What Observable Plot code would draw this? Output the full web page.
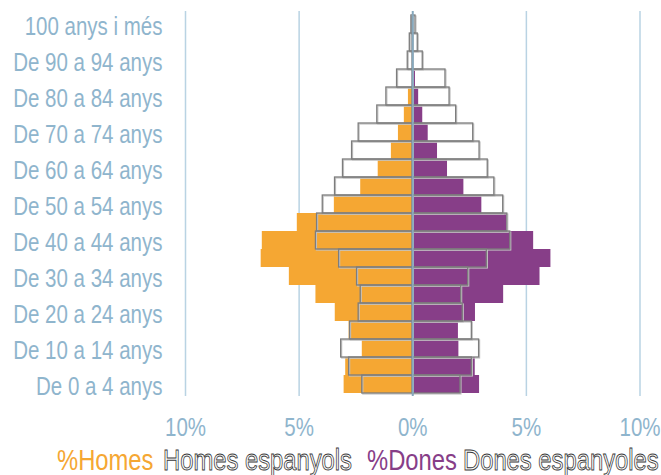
<!DOCTYPE html>
<html><head><meta charset="utf-8">
<script src="https://cdn.jsdelivr.net/npm/d3@7"></script>
<script src="https://cdn.jsdelivr.net/npm/@observablehq/plot@0.6"></script>
<style>
body{margin:0;background:#fff;font-family:'Liberation Sans',Arial,sans-serif;}
#legend{position:relative;height:30px;font-size:29px;line-height:30px;}
#legend span{position:absolute;top:0;white-space:nowrap;transform:scaleX(0.82);transform-origin:0 0;}
.outl{color:#fff;-webkit-text-stroke:0.9px #3a3a3a;}
</style></head><body>
<div id="chart"></div>
<div id="legend"></div>
<script>
// age groups, top (oldest) to bottom (youngest)
const ages = ["100 anys i més","De 95 a 99 anys","De 90 a 94 anys","De 85 a 89 anys","De 80 a 84 anys",
  "De 75 a 79 anys","De 70 a 74 anys","De 65 a 69 anys","De 60 a 64 anys","De 55 a 59 anys",
  "De 50 a 54 anys","De 45 a 49 anys","De 40 a 44 anys","De 35 a 39 anys","De 30 a 34 anys",
  "De 25 a 29 anys","De 20 a 24 anys","De 15 a 19 anys","De 10 a 14 anys","De 5 a 9 anys","De 0 a 4 anys"];
const homes = [0,0,0,0,0.19,0.37,0.63,0.94,1.52,2.29,3.45,5.08,6.62,6.67,5.43,4.26,3.41,2.80,2.22,2.95,3.02];
const homesEsp = [0.06,0.13,0.22,0.69,1.16,1.56,2.38,2.67,3.07,3.42,3.96,4.21,4.26,3.24,2.45,2.29,2.38,2.76,3.15,2.80,2.22];
const dones = [0,0,0,0.12,0.26,0.44,0.68,1.09,1.53,2.25,3.04,4.13,5.32,6.08,5.60,4.00,2.76,2.01,2.03,2.75,2.94];
const donesEsp = [0.12,0.22,0.44,1.44,1.62,1.91,2.66,2.94,3.30,3.59,3.98,4.16,4.29,3.26,2.44,2.13,2.20,2.60,2.92,2.60,2.10];
const xTicks = [-10,-5,0,5,10];
const yTickLabels = ages.filter((d,i) => i % 2 === 0);
const legendItems = [
  {text:"%Homes", cls:"", color:"#f5a733", left:57},
  {text:"Homes espanyols", cls:"outl", color:null, left:162.7},
  {text:"%Dones", cls:"", color:"#873e88", left:366.7},
  {text:"Dones espanyoles", cls:"outl", color:null, left:462.7}
];

const rows = ages.map((a,i) => ({age:a, homes:homes[i], homesEsp:homesEsp[i], dones:dones[i], donesEsp:donesEsp[i]}));

const chart = Plot.plot({
  width: 661,
  height: 445,
  marginTop: 11,
  marginBottom: 49,
  marginLeft: 185,
  marginRight: 21.5,
  style: {fontFamily: "'Liberation Sans',Arial,sans-serif", fontSize: "25px", color: "#8fb5cd", background: "#fff", overflow: "visible"},
  x: {domain: [-10, 10], ticks: xTicks, tickFormat: d => Math.abs(d) + "%", tickSize: 0, tickPadding: 22, label: null},
  y: {domain: ages, padding: 0, ticks: yTickLabels, tickSize: 0, tickPadding: 23, label: null},
  marks: [
    Plot.ruleX(xTicks.filter(d => d !== 0), {stroke: "#b9d3e3", strokeWidth: 1.5}),
    Plot.barX(rows, {x1: 0, x2: d => -d.homes, y: "age", fill: "#f5a733", inset: 0}),
    Plot.barX(rows, {x1: 0, x2: d => d.dones, y: "age", fill: "#873e88", inset: 0}),
    Plot.barX(rows, {x1: 0, x2: d => -d.homesEsp, y: "age", fill: "none", stroke: "#c4c4c4", strokeWidth: 1.2, dx: 1, dy: 1, inset: 0}),
    Plot.barX(rows, {x1: 0, x2: d => d.donesEsp, y: "age", fill: "none", stroke: "#c4c4c4", strokeWidth: 1.2, dx: 1, dy: 1, inset: 0}),
    Plot.barX(rows, {x1: 0, x2: d => -d.homesEsp, y: "age", fill: "none", stroke: "#7d7d7d", strokeWidth: 1.3, inset: 0}),
    Plot.barX(rows, {x1: 0, x2: d => d.donesEsp, y: "age", fill: "none", stroke: "#7d7d7d", strokeWidth: 1.3, inset: 0}),
    Plot.ruleX([0], {stroke: "#86a8bd", strokeWidth: 2})
  ]
});
chart.querySelectorAll('[aria-label="y-axis tick label"] text').forEach(t => t.setAttribute("dy", "2"));
chart.querySelectorAll('[aria-label="y-axis tick label"] text, [aria-label="x-axis tick label"] text').forEach(t => {
  const tr = t.getAttribute("transform") || "";
  t.setAttribute("transform", tr + " scale(0.82,1)");
});
document.getElementById("chart").appendChild(chart);

const lg = document.getElementById("legend");
legendItems.forEach(it => {
  const s = document.createElement("span");
  s.textContent = it.text;
  if (it.cls) s.className = it.cls;
  if (it.color) s.style.color = it.color;
  s.style.left = it.left + "px";
  lg.appendChild(s);
});
</script>
</body></html>
